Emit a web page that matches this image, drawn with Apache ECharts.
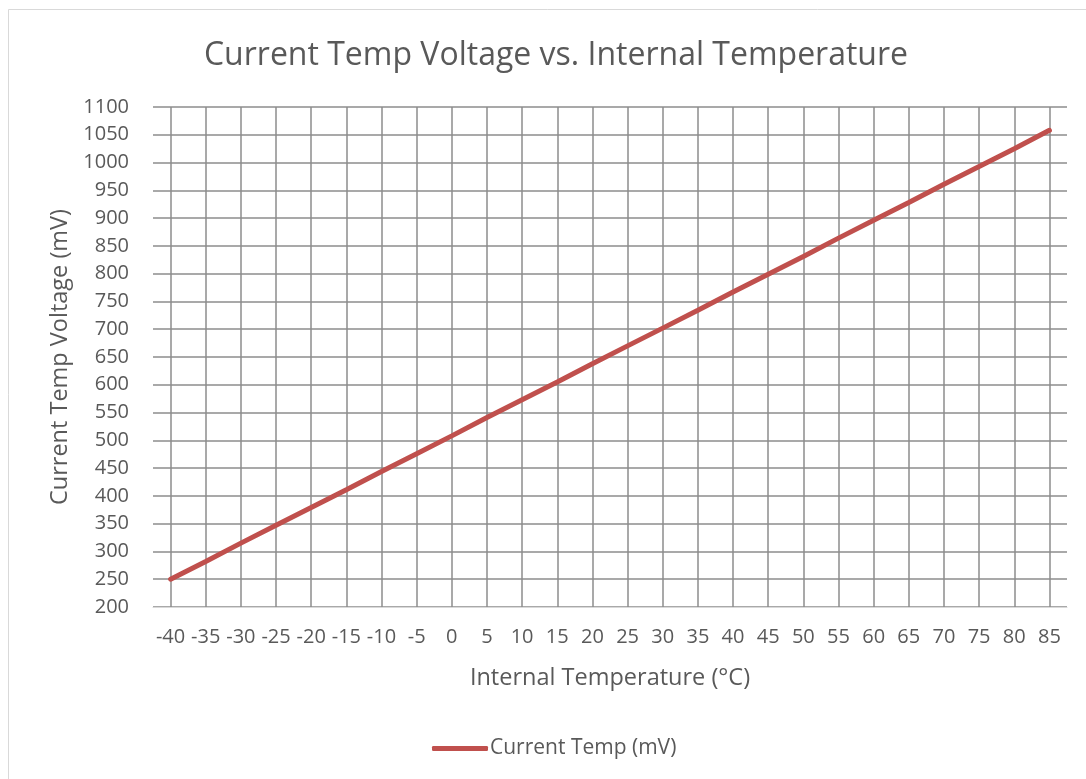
<!DOCTYPE html>
<html>
<head>
<meta charset="utf-8">
<script src="https://cdn.jsdelivr.net/npm/echarts@6/dist/echarts.min.js"></script>
<style>
  html, body { margin: 0; padding: 0; background: #fff; }
  #chart { width: 1086px; height: 779px; }
</style>
</head>
<body>
<div id="chart"></div>
<script>
// 温度（°C）
var temps = ['-40', '-35', '-30', '-25', '-20', '-15', '-10', '-5', '0', '5', '10', '15', '20',
             '25', '30', '35', '40', '45', '50', '55', '60', '65', '70', '75', '80', '85'];
// 电压（mV）
var voltages = [250, 282, 315, 347, 379, 411, 444, 476, 508, 541, 573, 605, 638,
                670, 702, 734, 767, 799, 831, 864, 896, 928, 961, 993, 1025, 1058];

var FONT = '"Open Sans", sans-serif';
var myChart = echarts.init(document.getElementById('chart'));

option = {
    backgroundColor: '#fff',
    textStyle: { fontFamily: FONT },
    graphic: [{
        type: 'rect',
        shape: { x: 8.5, y: 9.5, width: 1100, height: 800 },
        style: { fill: 'none', stroke: '#d9d9d9', lineWidth: 1 },
        silent: true
    }],
    title: {
        text: 'Current Temp Voltage vs. Internal Temperature',
        left: 551,
        top: 35,
        textAlign: 'center',
        textStyle: { fontFamily: FONT, fontSize: 32, fontWeight: 'normal', color: '#595959' }
    },
    legend: {
        left: 427,
        top: 733,
        icon: 'roundRect',
        itemWidth: 56,
        itemHeight: 5,
        itemGap: 2,
        data: ['Current Temp (mV)'],
        textStyle: { fontFamily: FONT, fontSize: 21, color: '#595959', padding: [0, 0, 0, -3] }
    },
    grid: { left: 153, right: 19, top: 107, bottom: 172 },
    xAxis: {
        type: 'category',
        data: temps,
        boundaryGap: true,
        name: 'Internal Temperature (°C)',
        nameLocation: 'middle',
        nameGap: 59,
        nameTextStyle: { fontFamily: FONT, fontSize: 23.5, color: '#595959' },
        axisLine: { show: true, lineStyle: { color: '#d9d9d9', width: 1 } },
        axisTick: { show: false },
        axisLabel: { fontFamily: FONT, fontSize: 20, color: '#595959', margin: 20, interval: 0 },
        splitLine: { show: true, alignWithLabel: true, lineStyle: { color: '#8c8c8c', width: 1.5 } }
    },
    yAxis: {
        type: 'value',
        min: 200,
        max: 1100,
        interval: 50,
        name: 'Current Temp Voltage (mV)',
        nameLocation: 'middle',
        nameGap: 80,
        nameTextStyle: { fontFamily: FONT, fontSize: 23.5, color: '#595959' },
        axisLine: { show: false },
        axisTick: { show: false },
        axisLabel: {
            fontFamily: FONT, fontSize: 20, color: '#595959', margin: 24,
            formatter: function (v) { return String(v); }
        },
        splitLine: { show: true, lineStyle: { color: '#8c8c8c', width: 1.5 } }
    },
    series: [{
        name: 'Current Temp (mV)',
        type: 'line',
        data: voltages,
        showSymbol: false,
        symbol: 'none',
        lineStyle: { color: '#c0504d', width: 5, cap: 'round' },
        itemStyle: { color: '#c0504d' },
        animation: false
    }]
};

myChart.setOption(option);
</script>
</body>
</html>
